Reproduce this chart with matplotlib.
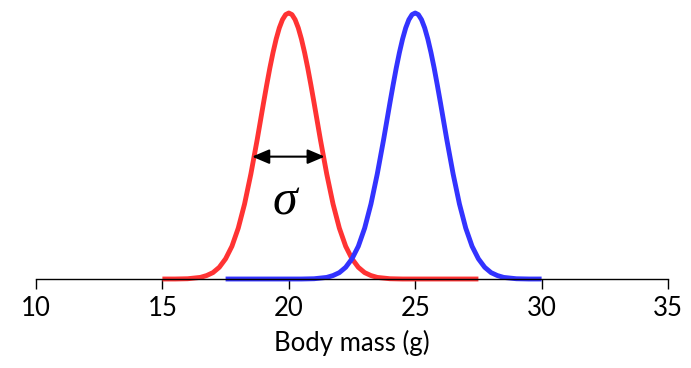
import matplotlib.pyplot as plt

# body mass values (g) and relative frequency
red_x = [15.0, 15.5, 16.0, 16.5, 16.75, 17.0, 17.25, 17.5, 17.75, 18.0, 18.25, 18.5, 18.75,
         19.0, 19.125, 19.25, 19.375, 19.5, 19.625, 19.75, 19.875, 20.0,
         20.125, 20.25, 20.375, 20.5, 20.625, 20.75, 20.875, 21.0, 21.25, 21.5, 21.75,
         22.0, 22.25, 22.5, 22.75, 23.0, 23.25, 23.5, 24.0, 24.5, 25.0, 26.0, 27.5]
red_y = [0.000, 0.000, 0.001, 0.006, 0.013, 0.024, 0.044, 0.076, 0.123, 0.191, 0.282, 0.395, 0.524,
         0.662, 0.729, 0.793, 0.851, 0.902, 0.944, 0.975, 0.994, 1.000,
         0.994, 0.975, 0.944, 0.902, 0.851, 0.793, 0.729, 0.662, 0.524, 0.395, 0.282,
         0.191, 0.123, 0.076, 0.044, 0.024, 0.013, 0.006, 0.001, 0.000, 0.000, 0.000, 0.000]

blue_x = [17.5, 19.0, 20.0, 20.5, 21.0, 21.5, 21.75, 22.0, 22.25, 22.5, 22.75, 23.0, 23.25,
          23.5, 23.75, 24.0, 24.125, 24.25, 24.375, 24.5, 24.625, 24.75, 24.875, 25.0,
          25.125, 25.25, 25.375, 25.5, 25.625, 25.75, 25.875, 26.0, 26.25,
          26.5, 26.75, 27.0, 27.25, 27.5, 27.75, 28.0, 28.25, 28.5, 29.0, 29.5, 30.0]
blue_y = [0.000, 0.000, 0.000, 0.000, 0.001, 0.006, 0.013, 0.024, 0.044, 0.076, 0.123, 0.191, 0.282,
          0.395, 0.524, 0.662, 0.729, 0.793, 0.851, 0.902, 0.944, 0.975, 0.994, 1.000,
          0.994, 0.975, 0.944, 0.902, 0.851, 0.793, 0.729, 0.662, 0.524,
          0.395, 0.282, 0.191, 0.123, 0.076, 0.044, 0.024, 0.013, 0.006, 0.001, 0.000, 0.000]

xticks = [10, 15, 20, 25, 30, 35]
sigma_left, sigma_right, sigma_level = 18.55, 21.42, 0.46

fig = plt.figure(figsize=(6.91, 3.68), dpi=100)
ax = fig.add_axes([36/691, 89/368, 632/691, 266/368])

ax.plot(red_x, red_y, color='#ff3333', lw=3.5, clip_on=False, solid_capstyle='butt')
ax.plot(blue_x, blue_y, color='#3333ff', lw=3.5, clip_on=False, solid_capstyle='butt')

# sigma arrow
ax.annotate('', xy=(sigma_left, sigma_level), xytext=(sigma_right, sigma_level),
            arrowprops=dict(arrowstyle='<|-|>,head_length=0.4,head_width=0.17', color='black',
                            lw=1.5, mutation_scale=26, shrinkA=0, shrinkB=0))
ax.text(19.85, 0.29, 'σ', fontsize=36, fontstyle='italic', family='Liberation Serif',
        ha='center', va='center')

ax.set_xlim(10, 35)
ax.set_ylim(0, 1)
ax.set_xticks(xticks)
ax.set_xticklabels([str(t) for t in xticks], family='Lato', fontsize=18.5)
ax.set_yticks([])
for s in ['top', 'left', 'right']:
    ax.spines[s].set_visible(False)
ax.spines['bottom'].set_linewidth(1.0)
ax.tick_params(axis='x', direction='out', length=7.5, width=1.0, pad=5)
ax.set_xlabel('Body mass (g)', family='Lato', fontsize=18.5, labelpad=6)

fig.savefig('out.png', dpi=100)
